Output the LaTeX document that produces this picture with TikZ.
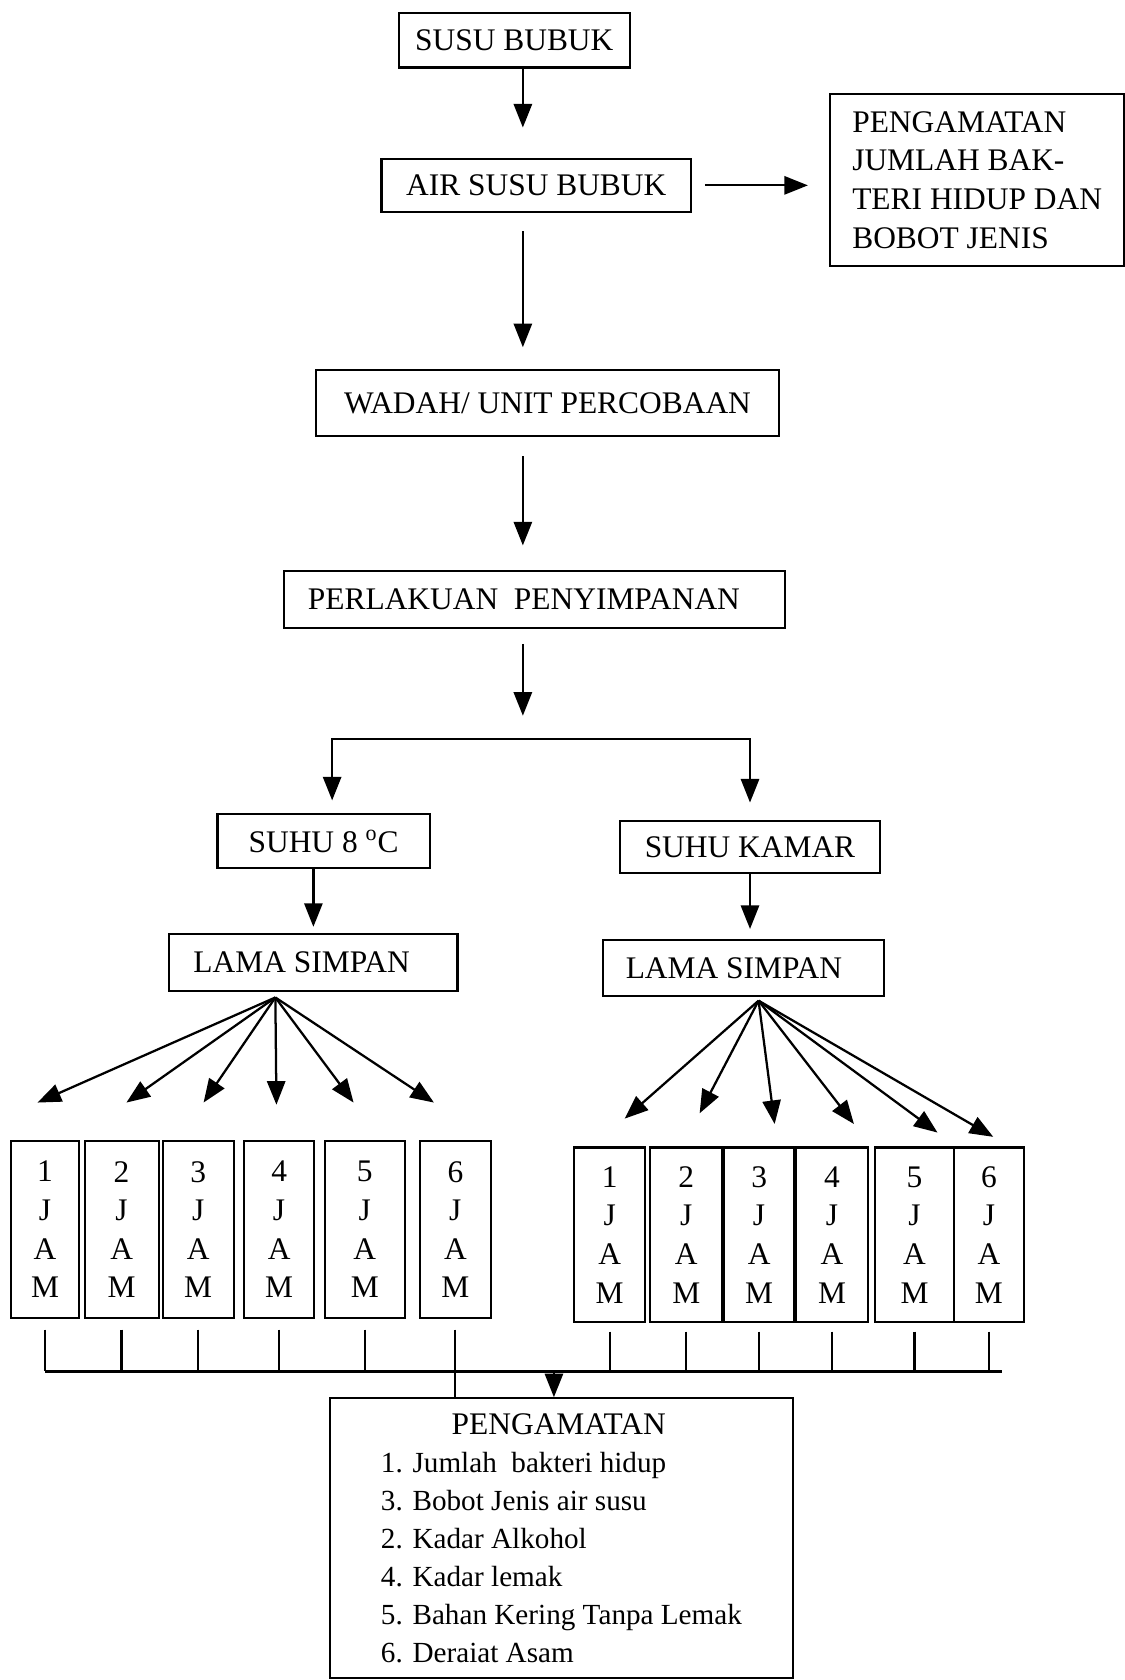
\documentclass[tikz,border=0pt]{standalone}
\usepackage{fontspec}
\setmainfont{Liberation Serif}
\usetikzlibrary{arrows.meta}
\tikzset{
	box/.style={draw, line width=1.1pt, inner sep=0pt, align=center, font=\fontsize{16.7}{20.5}\selectfont},
	jam/.style={box, minimum height=3.3cm},
	arr/.style={line width=1.2pt, -{Triangle[length=0.44cm, width=0.34cm]}}
}

\begin{document}
\begin{tikzpicture}[x=0.02cm, y=-0.02cm, line width=1.2pt]
		\useasboundingbox (0,0) rectangle (1050,1568);

		\node[box, minimum width=4.32cm, minimum height=1.02cm] (susu) at (480,37.5) {SUSU BUBUK};
		\node[box, minimum width=5.78cm, minimum height=1cm] (air) at (500.5,173) {AIR SUSU BUBUK};
		\node[box, align=left, minimum width=5.48cm, minimum height=3.2cm] (obs) at (912,168) {PENGAMATAN\\JUMLAH BAK-\\TERI HIDUP DAN\\BOBOT JENIS};
		\node[box, minimum width=8.64cm, minimum height=1.24cm] (wadah) at (511,376) {WADAH/ UNIT PERCOBAAN};
		\node[box, minimum width=9.36cm, minimum height=1.06cm] (perlakuan) at (499,559.5) {PERLAKUAN\ \ PENYIMPANAN\hspace*{0.4cm}};

		\node[box, minimum width=3.96cm, minimum height=1cm] (suhuA) at (302,785) {SUHU 8 \textsuperscript{o}C};
		\node[box, minimum width=4.84cm, minimum height=0.98cm] (suhuB) at (700,790.5) {SUHU KAMAR};
		\node[box, minimum width=5.38cm, minimum height=1.06cm] (lamaA) at (292.5,898.5) {LAMA SIMPAN\hspace*{0.44cm}};
		\node[box, minimum width=5.24cm, minimum height=1.06cm] (lamaB) at (694,903.5) {LAMA SIMPAN\hspace*{0.36cm}};

		\foreach \i/\cx/\w in {1/42/1.28, 2/113.5/1.38, 3/185/1.32, 4/260.5/1.30, 5/340.5/1.50, 6/425/1.32}
			\node[jam, minimum width=\w cm] (jA\i) at (\cx,1147.5) {\i\\J\\A\\M};
		\foreach \i/\cx/\w in {1/569/1.32, 2/640.5/1.34, 3/708.5/1.30, 4/776.5/1.34, 5/853.5/1.46, 6/923/1.32}
			\node[jam, minimum width=\w cm, minimum height=3.26cm] (jB\i) at (\cx,1152.5) {\i\\J\\A\\M};

		\node[box, align=left, minimum width=8.64cm, minimum height=5.22cm, font=\fontsize{15.5}{20.2}\selectfont] (hasil) at (524,1435.5)
			{\hspace*{1.32cm}{\fontsize{16.7}{20.2}\selectfont PENGAMATAN}\\1. Jumlah\ \ bakteri hidup\\3. Bobot Jenis air susu\\2. Kadar Alkohol\\4. Kadar lemak\\5. Bahan Kering Tanpa Lemak\\6. Deraiat Asam};

		\coordinate (spine) at (488,0);
		\draw[arr, shorten >=0.56cm] (susu.south -| spine) -- (air.north -| spine);
		\draw[arr, shorten <=0.24cm, shorten >=0.4cm] (air.east) -- (air.east -| obs.west);
		\draw[arr, shorten <=0.34cm, shorten >=0.4cm] (air.south -| spine) -- (wadah.north -| spine);
		\draw[arr, shorten <=0.36cm, shorten >=0.46cm] (wadah.south -| spine) -- (perlakuan.north -| spine);

		\coordinate (split) at (488,690);
		\draw[arr, shorten <=0.28cm, shorten >=0.44cm] (perlakuan.south -| spine) -- (split);
		\draw[arr, shorten >=0.24cm] (split) -| ([xshift=0.16cm]suhuA.north);
		\draw[arr, shorten >=0.32cm] (split) -| (suhuB.north);

		\draw[arr, shorten >=0.12cm] (suhuA.south -| lamaA.north) -- (lamaA.north);
		\draw[arr, shorten >=0.18cm] (suhuB.south) -- (suhuB.south |- lamaB.north);

		\coordinate (fanA) at ([xshift=-0.71cm, yshift=-0.1cm]lamaA.south);
		\coordinate (fanB) at ([xshift=0.28cm, yshift=-0.06cm]lamaB.south);
		\foreach \i/\dx/\dy in {1/-0.14/0.7, 2/0.09/0.7, 3/0.1/0.7, 4/-0.05/0.66, 5/-0.21/0.7, 6/-0.4/0.7}
			\draw[arr] (fanA) -- ([xshift=\dx cm, yshift=\dy cm]jA\i.north);
		\foreach \i/\dx/\dy in {1/0.28/0.52, 2/0.25/0.62, 3/0.29/0.42, 4/0.41/0.42, 5/0.43/0.26, 6/0.08/0.18}
			\draw[arr] (fanB) -- ([xshift=\dx cm, yshift=\dy cm]jB\i.north);

		\coordinate (bus) at (517,1280);
		\coordinate (busend) at (935,1280);
		\draw (jA1.south |- bus) -- (busend);
		\foreach \i in {1,...,5}
			\draw ([yshift=-0.2cm]jA\i.south) -- (jA\i.south |- bus);
		\draw ([yshift=-0.2cm]jA6.south) -- (jA6.south |- hasil.north);
		\foreach \i in {1,...,6}
			\draw ([yshift=-0.16cm]jB\i.south) -- (jB\i.south |- bus);
		\draw[arr] (bus) -- (bus |- hasil.north);

	\end{tikzpicture}
\end{document}
